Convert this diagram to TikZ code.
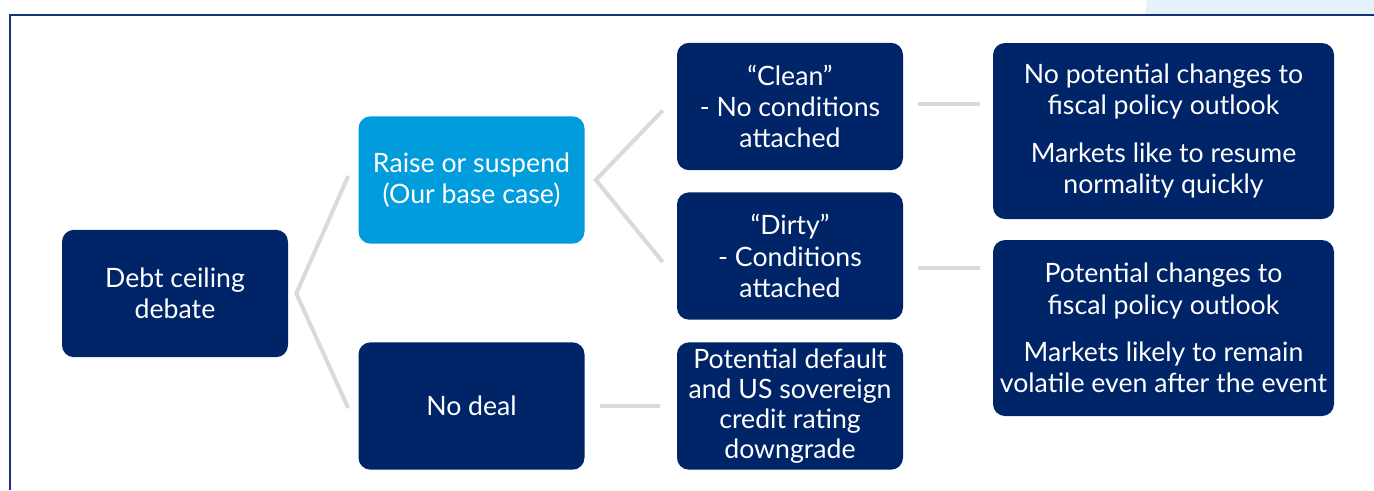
\documentclass[tikz,border=0pt]{standalone}
\usepackage{fontspec}
\setmainfont{Lato}
\usetikzlibrary{calc}
\definecolor{navy}{RGB}{0,36,104}
\definecolor{sky}{RGB}{0,156,220}
\definecolor{link}{RGB}{218,218,218}
\definecolor{pale}{RGB}{228,242,250}
\definecolor{frame}{RGB}{20,50,120}
\begin{document}
\begin{tikzpicture}[x=0.75pt,y=-0.75pt,
  card/.style={rounded corners=9pt, inner sep=0pt, text=white, align=center,
    font=\fontsize{20}{23.5}\selectfont},
  small/.style={card, minimum width=169.5pt, minimum height=95.5pt},
  big/.style={card, minimum width=255.75pt, minimum height=132pt},
  dark/.style={fill=navy},
  light/.style={fill=sky},
  branch/.style={draw=link, line width=3pt}]
\useasboundingbox (0,0) rectangle (1374,490);
% page frame and corner tab
\fill[pale] (1147,0) -- (1374,0) -- (1374,15) -- (1145,15) -- cycle;
\draw[frame, line width=1.5pt] (10,490) -- (10,15) -- (1374,15);
% boxes
\node[small, dark] (debt) at (175,293.5) {Debt ceiling\\debate};
\node[small, light] (raise) at (471.5,180) {Raise or suspend\\(Our base case)};
\node[small, dark] (nodeal) at (471.5,406) {No deal};
\node[small, dark] (clean) at (790,106.5) {“Clean”\\- No conditions\\attached};
\node[small, dark] (dirty) at (790,256) {“Dirty”\\- Conditions\\attached};
\node[small, dark, font=\fontsize{20}{22.5}\selectfont] (default) at (790,406) {Potential default\\and US sovereign\\credit rating\\downgrade};
\node[big, dark] (calm) at (1163.5,131) {No potential changes to\\fiscal policy outlook\\[12pt]Markets like to resume\\normality quickly};
\node[big, dark] (rough) at (1163.5,328) {Potential changes to\\fiscal policy outlook\\[12pt]Markets likely to remain\\volatile even after the event};
% connectors
\coordinate (s1) at ($(debt.east)+(8,0)$);
\draw[branch] ($(raise.west)+(-10,-4)$) -- (s1) -- ($(nodeal.west)+(-10,2)$);
\coordinate (s2) at ($(raise.east)+(11,0)$);
\draw[branch] ($(clean.west)+(-14,4)$) -- (s2) -- ($(dirty.west)+(-14,6)$);
\draw[branch] ($(clean.east)+(15,-2.5)$) -- ($(calm.west)+(-13,-27)$);
\draw[branch] ($(dirty.east)+(15,12)$) -- ($(rough.west)+(-13,-60)$);
\draw[branch] ($(nodeal.east)+(15,0)$) -- ($(default.west)+(-17,0)$);
\end{tikzpicture}
\end{document}
